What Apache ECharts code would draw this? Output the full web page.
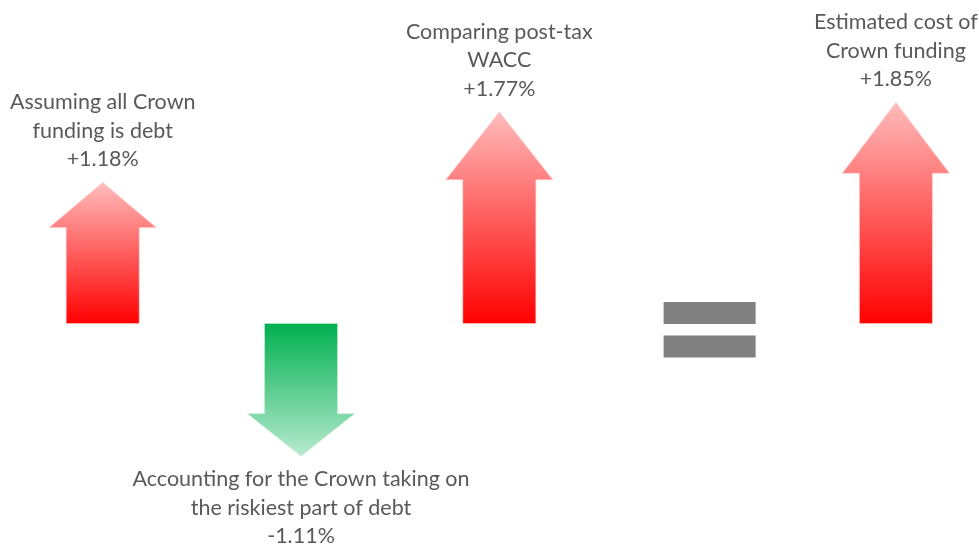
<!DOCTYPE html>
<html>
<head>
<meta charset="utf-8">
<script src="https://cdn.jsdelivr.net/npm/echarts@6/dist/echarts.min.js"></script>
<style>
html,body{margin:0;padding:0;background:#fff;}
#chart{width:979px;height:546px;}
</style>
</head>
<body>
<div id="chart"></div>
<script>
// ---- data ----
const categories = ['Assuming all Crown funding is debt', 'Accounting for the Crown taking on the riskiest part of debt', 'Comparing post-tax WACC', '=', 'Estimated cost of Crown funding'];
const labelLines = ['Assuming all Crown\nfunding is debt', 'Accounting for the Crown taking on\nthe riskiest part of debt', 'Comparing post-tax\nWACC', '', 'Estimated cost of\nCrown funding'];
const values = [1.18, -1.11, 1.77, null, 1.85];
const equalsIndex = 3;

const arrowData = [];
values.forEach((v, i) => { if (v !== null) arrowData.push([i, v]); });

function fmt(v) { return (v > 0 ? '+' : '') + v.toFixed(2) + '%'; }

const chart = echarts.init(document.getElementById('chart'));
const option = {
  animation: false,
  backgroundColor: '#ffffff',
  grid: { left: 0, right: 0, top: 0, bottom: 0 },
  xAxis: { type: 'value', min: -0.518, max: 4.419, show: false },
  yAxis: { type: 'value', min: -1.862, max: 2.707, show: false },
  series: [
    {
      type: 'custom',
      data: arrowData,
      renderItem: function (params, api) {
        const i = api.value(0), v = api.value(1);
        const base = api.coord([i, 0]);
        const tip = api.coord([i, v]);
        const cx = base[0];
        const up = v > 0;
        const d = up ? 1 : -1;
        const len = Math.abs(base[1] - tip[1]);
        const headLen = 0.32 * len;
        const sw = 73, hw = 107;
        const hb = tip[1] + d * headLen;
        const pts = [
          [cx - sw / 2, base[1]], [cx - sw / 2, hb], [cx - hw / 2, hb], [cx, tip[1]],
          [cx + hw / 2, hb], [cx + sw / 2, hb], [cx + sw / 2, base[1]]
        ];
        const fill = up
          ? new echarts.graphic.LinearGradient(0, 0, 0, 1, [
              { offset: 0, color: '#ffbcbc' }, { offset: 1, color: '#ff0000' }])
          : new echarts.graphic.LinearGradient(0, 0, 0, 1, [
              { offset: 0, color: '#00b050' }, { offset: 1, color: '#b8ead0' }]);
        return {
          type: 'group',
          children: [
            {
              type: 'polygon',
              shape: { points: pts },
              style: { fill: fill, stroke: up ? 'rgba(255,200,200,0.6)' : 'rgba(200,240,215,0.6)', lineWidth: 1 }
            },
            {
              type: 'text',
              style: {
                x: cx,
                y: up ? tip[1] - 9 : tip[1] + 9,
                text: labelLines[i] + '\n' + fmt(v),
                align: 'center',
                verticalAlign: up ? 'bottom' : 'top',
                fill: '#595959',
                font: '21.5px Lato',
                lineHeight: 28.5
              }
            }
          ]
        };
      }
    },
    {
      type: 'custom',
      data: [[equalsIndex, 0]],
      renderItem: function (params, api) {
        const p = api.coord([api.value(0), api.value(1)]);
        const cx = p[0] + 12;
        return {
          type: 'group',
          children: [
            { type: 'rect', shape: { x: cx - 46, y: p[1] - 21.5, width: 92, height: 22 }, style: { fill: '#808080' } },
            { type: 'rect', shape: { x: cx - 46, y: p[1] + 12, width: 92, height: 22 }, style: { fill: '#808080' } }
          ]
        };
      }
    }
  ]
};
chart.setOption(option);
</script>
</body>
</html>
